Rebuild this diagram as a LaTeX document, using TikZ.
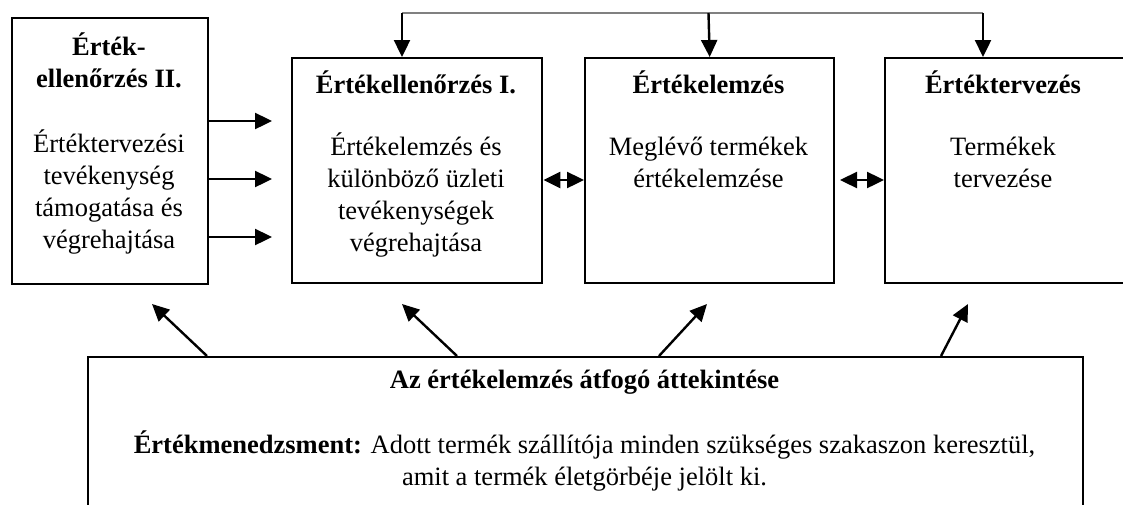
\documentclass[tikz,border=0pt]{standalone}
\usepackage{fontspec}
\setmainfont{Liberation Serif}
\usetikzlibrary{arrows.meta}

% tall invisible rule so every first line has the same height
\newcommand\firstline{\rule{0pt}{25pt}}

\tikzset{
  box/.style={draw, line width=2.4pt, inner sep=0pt, anchor=north west},
  txt/.style={font=\fontsize{26.5}{32}\selectfont, align=center, inner sep=0pt, anchor=north},
  ttl/.style={txt, font=\fontsize{26.5}{32}\selectfont\bfseries},
  tip/.tip={Triangle[length=17pt,width=16pt]},
  arr/.style={line width=2.4pt, -tip},
  dbl/.style={line width=2.4pt, tip-tip},
  feed/.style={line width=2pt, draw=gray}
}

\begin{document}
\begin{tikzpicture}[x=1pt,y=-1pt]
\path[use as bounding box, clip] (0,0) rectangle (1123,504);

% upper row of boxes
\node[box, minimum width=196pt, minimum height=266pt] (b1) at (11,17) {};
\node[box, minimum width=250pt, minimum height=225pt] (b2) at (291,57) {};
\node[box, minimum width=249pt, minimum height=225pt] (b3) at (584,57) {};
\node[box, minimum width=245pt, minimum height=225pt] (b4) at (884,57) {};

% overview box along the bottom
\node[box, minimum width=995pt, minimum height=170pt] (b5) at (87,356) {};

% texts of the upper boxes
\node[ttl] (t1) at (109,55-25) {\firstline Érték-\\ellenőrzés II.};
\node[txt] (s1) at (109,152-25) {\firstline Értéktervezési\\tevékenység\\támogatása és\\végrehajtása};

\node[ttl] (t2) at (416,93-25) {\firstline Értékellenőrzés I.};
\node[txt] (s2) at (416,155-25) {\firstline Értékelemzés és\\különböző üzleti\\tevékenységek\\végrehajtása};

\node[ttl] (t3) at (708.5,93-25) {\firstline Értékelemzés};
\node[txt] (s3) at (708.5,155-25) {\firstline Meglévő termékek\\értékelemzése};

\node[ttl] (t4) at (1003,93-25) {\firstline Értéktervezés};
\node[txt] (s4) at (1003,155-25) {\firstline Termékek\\tervezése};

% texts of the overview box
\node[ttl] (t5) at (584.5,388-25) {\firstline Az értékelemzés átfogó áttekintése};
\node[txt] (s5) at (584.5,453-25) {\firstline\textbf{Értékmenedzsment:} Adott termék szállítója minden szükséges szakaszon keresztül,\\amit a termék életgörbéje jelölt ki.};

% feedback line over the top
\coordinate (fl) at (402,13);
\coordinate (fm) at (708.5,13);
\coordinate (fr) at (983,13);
\draw[feed] (fl) -- (fr);
\draw[arr] (fl) -- (fl |- b2.north);
\draw[arr] (fm) -- (b3.north);
\draw[arr] (fr) -- (fr |- b4.north);

% support arrows from the left box
\coordinate (r1) at (272,121);
\coordinate (r2) at (272,179);
\coordinate (r3) at (272,237);
\draw[arr] (b1.east |- r1) -- (r1);
\draw[arr] (b1.east |- r2) -- (r2);
\draw[arr] (b1.east |- r3) -- (r3);

% two-way links between neighbouring boxes
\coordinate (d1) at (541,180);
\coordinate (d2) at (840,180);
\draw[dbl] (b2.east |- d1) -- (b3.west |- d1);
\draw[dbl] (d2) -- (b4.west |- d2);

% arrows rising from the overview box
\coordinate (u1) at (152,304);
\coordinate (u2) at (402,304);
\coordinate (u3) at (707,304);
\coordinate (u4) at (968,304);
\draw[arr] (b5.north -| 207,0) -- (u1);
\draw[arr] (b5.north -| 457,0) -- (u2);
\draw[arr] (b5.north -| 659,0) -- (u3);
\draw[arr] (b5.north -| 941,0) -- (u4);
\end{tikzpicture}
\end{document}
